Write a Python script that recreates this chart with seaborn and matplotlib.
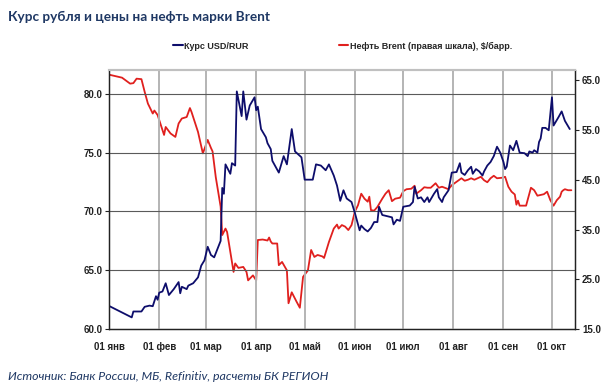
import pandas as pd
import numpy as np
import matplotlib
matplotlib.use("Agg")
import matplotlib.pyplot as plt
import matplotlib.dates as mdates
from matplotlib.lines import Line2D
import seaborn as sns

# USD/RUR, values
usd_dates = [
    "01-01", "01-10", "01-15", "01-16", "01-21", "01-23", "01-26", "01-28", "01-30", "01-31",
    "02-01", "02-03", "02-05", "02-07", "02-10", "02-13", "02-14", "02-15", "02-18", "02-19",
    "02-22", "02-25", "02-27", "02-29", "03-02", "03-04", "03-06", "03-10", "03-11", "03-12",
    "03-13", "03-16", "03-17", "03-19", "03-20", "03-23", "03-24", "03-26", "03-28", "03-31",
    "04-01", "04-02", "04-04", "04-07", "04-08", "04-10", "04-11", "04-15", "04-18", "04-20",
    "04-23", "04-25", "04-29", "05-01", "05-06", "05-08", "05-11", "05-14", "05-16", "05-19",
    "05-21", "05-23", "05-25", "05-27", "05-30", "06-01", "06-04", "06-05", "06-07", "06-09",
    "06-11", "06-13", "06-15", "06-16", "06-18", "06-21", "06-24", "06-25", "06-27", "06-29",
    "07-01", "07-05", "07-07", "07-08", "07-10", "07-12", "07-14", "07-16", "07-17", "07-20",
    "07-22", "07-23", "07-25", "07-26", "07-29", "07-31", "08-03", "08-05", "08-06", "08-08",
    "08-10", "08-12", "08-13", "08-15", "08-17", "08-19", "08-20", "08-22", "08-24", "08-26",
    "08-28", "08-30", "09-01", "09-02", "09-03", "09-05", "09-07", "09-09", "09-11", "09-14",
    "09-16", "09-17", "09-19", "09-20", "09-22", "09-23", "09-24", "09-25", "09-27", "09-29",
    "10-01", "10-02", "10-05", "10-07", "10-09", "10-12",
]
usd_rur = [
    61.97, 61.35, 61.0, 61.5, 61.5, 61.9, 62.0, 61.95, 62.8, 62.5,
    63.1, 63.2, 63.9, 62.9, 63.4, 64.0, 63.05, 63.6, 63.4, 63.7,
    63.9, 64.4, 65.4, 65.85, 67.0, 66.3, 66.1, 67.5, 72.0, 71.5,
    74.0, 73.2, 74.1, 73.9, 80.2, 78.1, 80.2, 77.8, 79.0, 79.7,
    78.6, 78.9, 77.0, 76.3, 75.8, 75.3, 74.3, 73.3, 74.7, 74.0,
    77.0, 75.1, 74.6, 72.7, 72.7, 74.0, 73.9, 73.5, 74.0, 73.05,
    72.2, 70.9, 71.8, 71.1, 70.8, 69.9, 68.4, 68.8, 68.5, 68.3,
    68.6, 69.1, 69.1, 70.4, 69.7, 69.6, 69.5, 68.9, 69.3, 69.2,
    70.4, 70.5, 70.8, 72.1, 71.1, 71.2, 70.8, 71.2, 70.8, 71.5,
    71.9, 71.2, 70.8, 71.2, 71.8, 73.3, 73.35, 74.1, 73.3, 73.1,
    73.5, 73.8, 73.2, 73.6, 73.4, 73.05, 73.4, 73.9, 74.2, 74.7,
    75.5, 75.0, 74.2, 73.6, 73.8, 75.6, 75.2, 76.0, 75.0, 74.95,
    74.7, 75.1, 75.0, 75.2, 75.0, 75.9, 76.2, 77.1, 77.1, 76.9,
    79.7, 77.3, 78.0, 78.5, 77.7, 77.0,
]

# Brent, $/bbl (right axis)
brent_dates = [
    "01-01", "01-09", "01-14", "01-16", "01-18", "01-21", "01-23", "01-25", "01-28", "01-29",
    "01-31", "02-02", "02-04", "02-05", "02-08", "02-11", "02-13", "02-15", "02-18", "02-20",
    "02-21", "02-25", "02-28", "03-02", "03-04", "03-05", "03-07", "03-10", "03-11", "03-13",
    "03-14", "03-16", "03-18", "03-19", "03-21", "03-24", "03-26", "03-27", "03-30", "04-01",
    "04-02", "04-05", "04-08", "04-09", "04-10", "04-11", "04-14", "04-15", "04-17", "04-20",
    "04-21", "04-23", "04-26", "04-28", "04-30", "05-03", "05-05", "05-07", "05-09", "05-12",
    "05-13", "05-16", "05-19", "05-21", "05-22", "05-24", "05-26", "05-28", "05-30", "06-01",
    "06-03", "06-05", "06-07", "06-09", "06-10", "06-11", "06-13", "06-15", "06-18", "06-20",
    "06-22", "06-24", "06-26", "06-29", "07-01", "07-03", "07-06", "07-08", "07-09", "07-12",
    "07-14", "07-16", "07-18", "07-21", "07-23", "07-25", "07-29", "07-31", "08-03", "08-06",
    "08-08", "08-10", "08-12", "08-14", "08-16", "08-18", "08-20", "08-22", "08-24", "08-26",
    "08-28", "08-31", "09-02", "09-04", "09-06", "09-08", "09-09", "09-10", "09-11", "09-15",
    "09-18", "09-20", "09-22", "09-26", "09-28", "09-30", "10-02", "10-04", "10-06", "10-07",
    "10-08", "10-09", "10-11", "10-13",
]
brent = [
    66.1, 65.5, 64.3, 64.4, 65.3, 65.2, 62.65, 60.3, 58.3, 58.9,
    58.0, 56.0, 54.0, 55.6, 54.3, 53.6, 56.3, 57.3, 57.6, 59.4,
    58.6, 54.6, 50.3, 53.0, 51.4, 50.7, 45.5, 39.6, 33.9, 35.2,
    34.5, 30.5, 26.5, 28.2, 27.3, 27.5, 26.5, 24.8, 25.8, 24.8,
    32.9, 33.0, 32.8, 33.4, 32.6, 32.2, 32.2, 27.85, 28.5, 26.8,
    20.2, 22.4, 20.5, 19.3, 25.5, 26.8, 30.9, 29.5, 29.9, 29.6,
    29.3, 32.5, 35.2, 36.0, 35.2, 35.9, 35.6, 34.9, 35.9, 38.55,
    39.9, 42.2, 41.2, 40.6, 41.6, 38.9, 38.8, 39.55, 41.2, 42.2,
    42.9, 40.7, 41.2, 41.4, 42.7, 43.1, 43.2, 43.8, 42.2, 42.9,
    43.5, 43.4, 43.4, 44.3, 43.4, 43.6, 43.1, 43.9, 44.6, 45.3,
    44.8, 45.0, 45.3, 45.0, 45.3, 45.6, 44.9, 44.5, 45.3, 45.8,
    45.3, 45.4, 45.6, 43.6, 42.6, 42.05, 40.0, 40.8, 39.8, 39.8,
    43.4, 42.9, 41.8, 42.1, 42.6, 40.9, 39.8, 40.9, 41.6, 42.6,
    42.9, 43.1, 42.9, 42.9,
]

month_labels = ["01 янв", "01 фев", "01 мар", "01 апр", "01 май",
                "01 июн", "01 июл", "01 авг", "01 сен", "01 окт"]
left_ticks = [60, 65, 70, 75, 80]
right_ticks = [15, 25, 35, 45, 55, 65]

usd_df = pd.DataFrame({"date": pd.to_datetime(["2020-" + d for d in usd_dates]), "val": usd_rur})
brent_df = pd.DataFrame({"date": pd.to_datetime(["2020-" + d for d in brent_dates]), "val": brent})

sns.set_style("white")
plt.rcParams["font.family"] = ["Liberation Sans", "DejaVu Sans"]

navy = "#0d0d6b"
red = "#e0201e"

fig = plt.figure(figsize=(6.13, 3.9), dpi=100)
ax = fig.add_axes([0.178, 0.156, 0.760, 0.664])
ax2 = ax.twinx()

sns.lineplot(data=usd_df, x="date", y="val", ax=ax, color=navy, lw=1.3)
sns.lineplot(data=brent_df, x="date", y="val", ax=ax2, color=red, lw=1.3)

# axes ranges
ax.set_xlim(pd.Timestamp("2020-01-01"), pd.Timestamp("2020-10-15 06:00"))
ax.set_ylim(60, 82)
ax2.set_ylim(15, 67)

month_starts = pd.date_range("2020-01-01", periods=10, freq="MS")
ax.set_xticks(month_starts)
ax.set_xticklabels(month_labels, fontsize=7, fontweight="bold")
ax.set_yticks(left_ticks)
ax.set_yticklabels([f"{v:.1f}" for v in left_ticks], fontsize=7, fontweight="bold")
ax2.set_yticks(right_ticks)
ax2.set_yticklabels([f"{v:.1f}" for v in right_ticks], fontsize=7, fontweight="bold")

ax.set_xlabel("")
ax.set_ylabel("")
ax2.set_ylabel("")

# grid: vertical light grey, horizontal dark grey
for d in month_starts[1:]:
    ax.axvline(d, color="#b4b4b4", lw=1.4, zorder=0)
for v in left_ticks[1:]:
    ax.axhline(v, color="#5a5a5a", lw=0.8, zorder=0)

for a in (ax, ax2):
    a.spines["top"].set_color("#c0c0c0")
    a.spines["top"].set_linewidth(1.5)
    a.spines["left"].set_color("#222222")
    a.spines["right"].set_color("#222222")
    a.spines["bottom"].set_color("#222222")
    a.spines["left"].set_linewidth(0.9)
    a.spines["right"].set_linewidth(0.9)
    a.spines["bottom"].set_linewidth(0.9)
ax.tick_params(axis="x", length=3, width=0.8, pad=6, colors="#222222")
ax.tick_params(axis="y", length=3, width=0.8, pad=2, colors="#222222")
ax2.tick_params(axis="y", length=3, width=0.8, pad=2, colors="#222222")
ax.set_zorder(ax2.get_zorder() + 1)
ax.patch.set_visible(False)

handles = [Line2D([0], [0], color=navy, lw=1.5), Line2D([0], [0], color=red, lw=1.5)]
fig.legend(handles, ["Курс USD/RUR", "Нефть Brent (правая шкала), $/барр."],
           loc="center left", bbox_to_anchor=(0.269, 0.882), ncol=2, frameon=False,
           prop={"size": 6.5, "weight": "bold"}, handlelength=1.05, handletextpad=0.2,
           columnspacing=9.95)

fig.text(0.013, 0.972, "Курс рубля и цены на нефть марки Brent", fontsize=9.8,
         fontweight="bold", color="#1f3864", va="top", family=["Lato", "DejaVu Sans"])
fig.text(0.013, 0.02, "Источник: Банк России, МБ, Refinitiv, расчеты БК РЕГИОН",
         fontsize=8.9, style="italic", color="#1f3864", va="bottom",
         family=["Lato", "DejaVu Sans"])

fig.savefig("out.png", dpi=100)
